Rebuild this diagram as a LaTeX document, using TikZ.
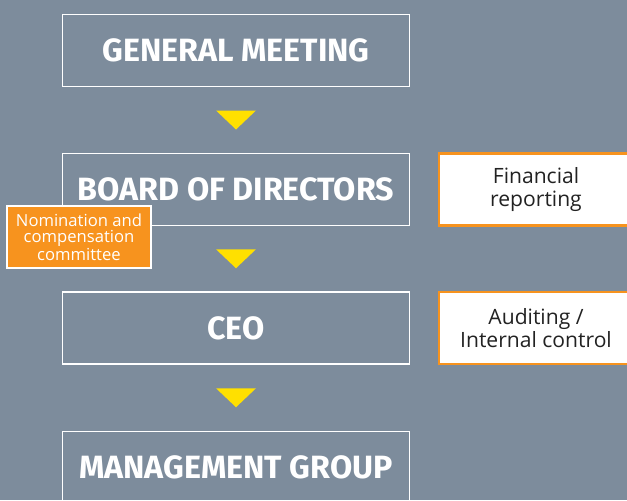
\documentclass[tikz,border=0pt]{standalone}
\usepackage{fontspec}
\setmainfont{Fira Sans}
\newfontfamily\bodyfont{Open Sans}
\usetikzlibrary{calc}

\definecolor{slate}{HTML}{7D8C9C}
\definecolor{signalorange}{HTML}{F7931E}
\definecolor{arrowyellow}{HTML}{FFE000}
\definecolor{textgray}{HTML}{222222}

\tikzset{
  levelbox/.style={rectangle, draw=white, line width=1.3pt, minimum width=10.41cm, minimum height=2.17cm,
    text=white, font=\fontsize{27.5}{30}\selectfont\bfseries},
  sidebox/.style={rectangle, draw=signalorange, fill=white, line width=1.8pt, minimum width=5.82cm, minimum height=2.16cm,
    text=textgray, align=center, font=\bodyfont\fontsize{18}{19}\selectfont},
  committeebox/.style={rectangle, draw=white, fill=signalorange, line width=1.3pt, minimum width=4.32cm, minimum height=1.86cm,
    inner sep=1pt, text=white, align=center, font=\bodyfont\fontsize{14.2}{13.8}\selectfont},
}

\begin{document}
\begin{tikzpicture}[x=0.03cm, y=-0.03cm]
  \useasboundingbox (0,0) rectangle (627,500);
  \clip (0,0) rectangle (627,500);
  \fill[slate] (0,0) rectangle (627,500);

  % levels
  \node[levelbox] (gm) at (236,50.5) {GENERAL MEETING};
  \node[levelbox] (bod) at (236,189.5) {BOARD OF DIRECTORS};
  \node[levelbox] (ceo) at (236,328) {CEO};
  \node[levelbox] (mg) at (236,467.5) {MANAGEMENT GROUP};

  % side functions
  \node[sidebox] (fin) at (536,189.5) {Financial\\reporting};
  \node[sidebox] (aud) at (536,328) {Auditing /\\Internal control};
  \node[committeebox] (nom) at (79,237) {Nomination and\\compensation\\committee};

  % yellow arrows between levels
  \foreach \a/\b in {gm/bod, bod/ceo, ceo/mg}{
    \coordinate (m\a) at ($(\a.south)!0.5!(\b.north)$);
    \fill[arrowyellow] ($(m\a)+(-20,-9.5)$) -- ($(m\a)+(20,-9.5)$) -- ($(m\a)+(0,9.5)$) -- cycle;
  }
\end{tikzpicture}
\end{document}
